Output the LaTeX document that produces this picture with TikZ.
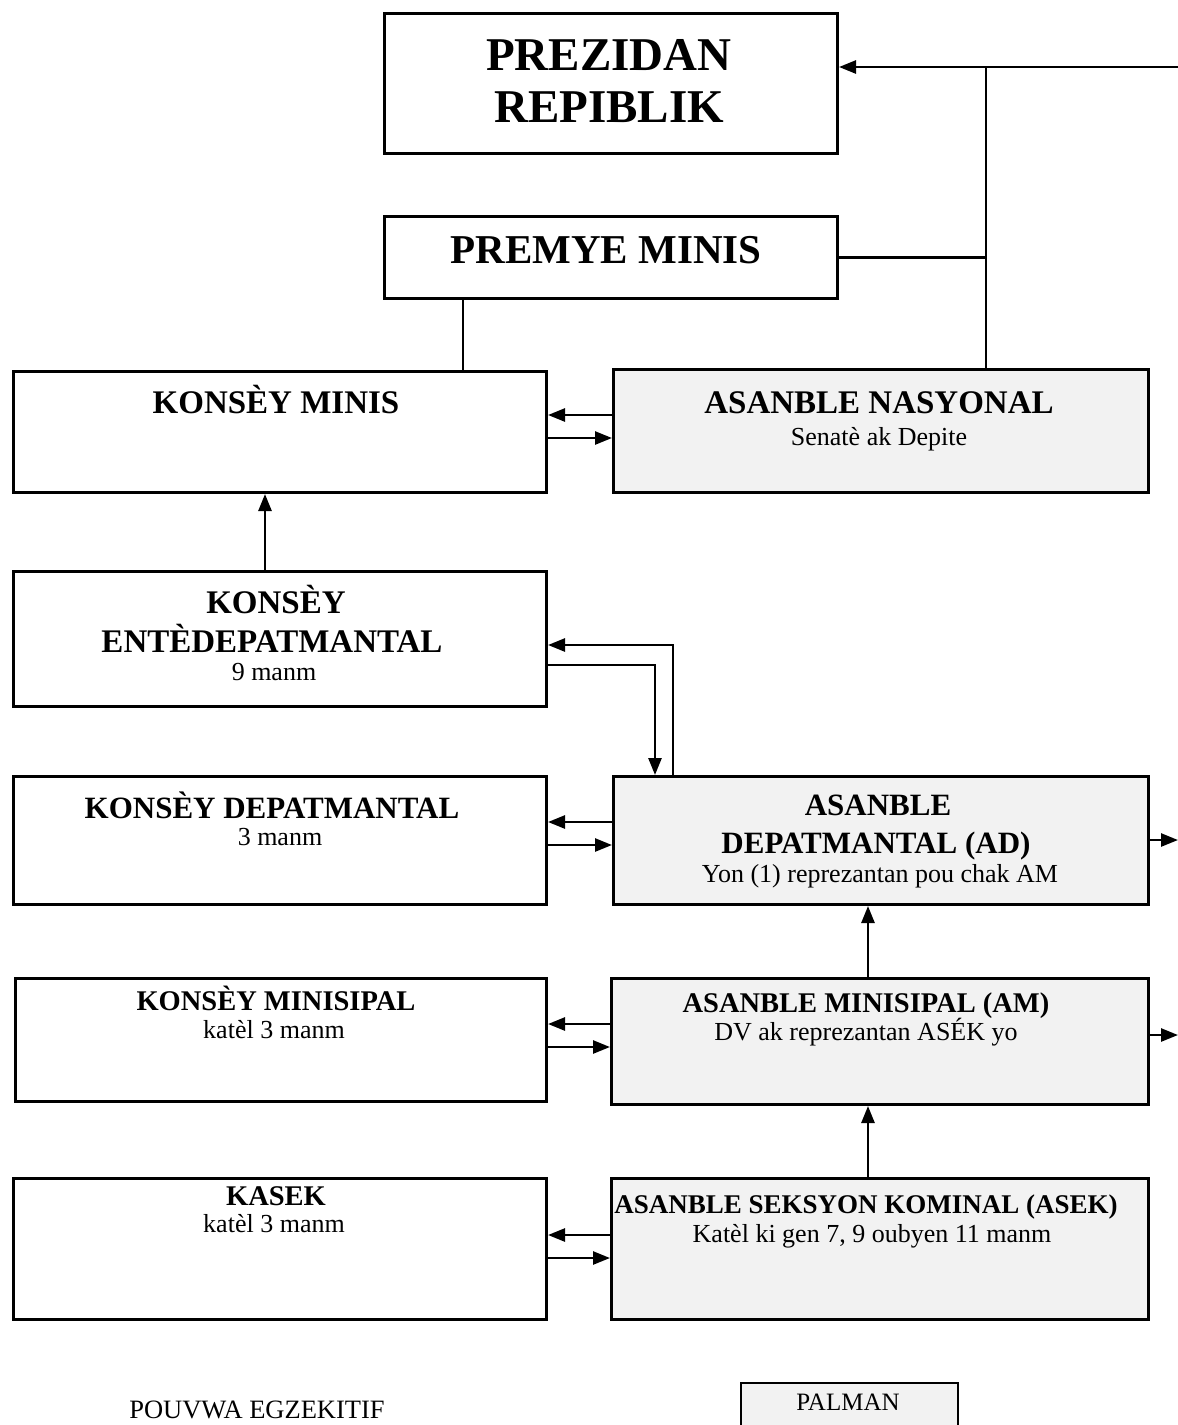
\documentclass[tikz,border=0pt]{standalone}
\usepackage{fontspec}
\setmainfont{Liberation Serif}
\usetikzlibrary{arrows.meta,calc}
\begin{document}
\begin{tikzpicture}[x=1pt,y=-1pt,
 box/.style={draw,line width=3pt,inner sep=0pt,anchor=north west},
 pbox/.style={box,fill=black!5},
 ln/.style={line width=2.6pt},
 arr/.style={ln,-{Triangle[length=17pt,width=13pt]}},
 tA/.style={anchor=base,inner sep=0pt,font=\fontsize{33}{36}\selectfont\bfseries},
 tB/.style={anchor=base,inner sep=0pt,font=\fontsize{31}{34}\selectfont\bfseries},
 tC/.style={anchor=base,inner sep=0pt,font=\fontsize{28.5}{32}\selectfont\bfseries},
 sub/.style={anchor=base,inner sep=0pt,font=\fontsize{26}{30}\selectfont},
]
\useasboundingbox (0,0) rectangle (1178,1425);
% boxes
\node[box,minimum width=453pt,minimum height=140pt] (pr) at (383,12) {};
\node[box,minimum width=453pt,minimum height=82pt] (pm) at (383,215) {};
\node[box,minimum width=533pt,minimum height=121pt] (km) at (12,370) {};
\node[pbox,minimum width=535pt,minimum height=123pt] (an) at (612,368) {};
\node[box,minimum width=533pt,minimum height=135pt] (ke) at (12,570) {};
\node[box,minimum width=533pt,minimum height=128pt] (kd) at (12,775) {};
\node[pbox,minimum width=535pt,minimum height=128pt] (ad) at (612,775) {};
\node[box,minimum width=531pt,minimum height=123pt] (kmi) at (14,977) {};
\node[pbox,minimum width=537pt,minimum height=126pt] (am) at (610,977) {};
\node[box,minimum width=533pt,minimum height=141pt] (ka) at (12,1177) {};
\node[pbox,minimum width=537pt,minimum height=141pt] (as) at (610,1177) {};
\node[pbox,line width=2pt,minimum width=217pt,minimum height=52pt] (pl) at (740,1382) {};
% texts
\node[anchor=base,inner sep=0pt,font=\fontsize{47}{52}\selectfont\bfseries] (prA) at (609,70) {PREZIDAN};
\node[anchor=base,inner sep=0pt,font=\fontsize{47}{52}\selectfont\bfseries] (prB) at (609,122) {REPIBLIK};
\node[anchor=base,inner sep=0pt,font=\fontsize{41}{46}\selectfont\bfseries] (pmA) at (606,263) {PREMYE MINIS};
\node[tA] (kmA) at (276,413) {KONSÈY MINIS};
\node[tA] (anA) at (879,413) {ASANBLE NASYONAL};
\node[sub] (anB) at (879,445) {Senatè ak Depite};
\node[tA] (keA) at (276,613) {KONSÈY};
\node[tA] (keB) at (272,652) {ENTÈDEPATMANTAL};
\node[sub] (keC) at (274,680) {9 manm};
\node[tB] (kdA) at (272,818) {KONSÈY DEPATMANTAL};
\node[sub] (kdB) at (280,845) {3 manm};
\node[tB] (adA) at (878,815) {ASANBLE};
\node[tB] (adB) at (876,853) {DEPATMANTAL (AD)};
\node[sub] (adC) at (880,882) {Yon (1) reprezantan pou chak AM};
\node[tC] (kmiA) at (276,1010) {KONSÈY MINISIPAL};
\node[sub] (kmiB) at (274,1038) {katèl 3 manm};
\node[tC] (amA) at (866,1012) {ASANBLE MINISIPAL (AM)};
\node[sub] (amB) at (866,1040) {DV ak reprezantan ASÉK yo};
\node[tC] (kaA) at (276,1205) {KASEK};
\node[sub] (kaB) at (274,1232) {katèl 3 manm};
\node[anchor=base,inner sep=0pt,font=\fontsize{27}{30}\selectfont\bfseries] (asA) at (866,1213) {ASANBLE SEKSYON KOMINAL (ASEK)};
\node[sub] (asB) at (872,1242) {Katèl ki gen 7, 9 oubyen 11 manm};
\node[anchor=base,inner sep=0pt,font=\fontsize{26.5}{30}\selectfont] (leg) at (257,1418) {POUVWA EGZEKITIF};
\node[anchor=base,inner sep=0pt,font=\fontsize{25}{28}\selectfont] (plA) at (848,1410) {PALMAN};
% connectors
\coordinate (rin) at (1178,67);
\coordinate (j1) at (986,67);
\draw[arr] (rin) -- (pr.east |- rin);
\draw[ln] (j1) -- (j1 |- an.north);
\draw[ln] (pm.east) -- (pm.east -| j1);
\draw[ln] (pm.south -| 463,0) -- (km.north -| 463,0);
\draw[arr] (an.west |- 0,415) -- (km.east |- 0,415);
\draw[arr] (km.east |- 0,438) -- (an.west |- 0,438);
\draw[arr] (ke.north -| 265,0) -- (km.south -| 265,0);
\draw[arr] (ad.north -| 673,0) -- (673,645) -- (ke.east |- 0,645);
\draw[arr] (ke.east |- 0,665) -- (655,665) -- (ad.north -| 655,0);
\draw[arr] (ad.west |- 0,822) -- (kd.east |- 0,822);
\draw[arr] (kd.east |- 0,845) -- (ad.west |- 0,845);
\coordinate (rad) at (1178,840);
\draw[arr] (ad.east |- rad) -- (rad);
\draw[arr] (am.north -| 868,0) -- (ad.south -| 868,0);
\draw[arr] (am.west |- 0,1024) -- (kmi.east |- 0,1024);
\draw[arr] (kmi.east |- 0,1047) -- (am.west |- 0,1047);
\coordinate (ram) at (1178,1035);
\draw[arr] (am.east |- ram) -- (ram);
\draw[arr] (as.north -| 868,0) -- (am.south -| 868,0);
\draw[arr] (as.west |- 0,1235) -- (ka.east |- 0,1235);
\draw[arr] (ka.east |- 0,1258) -- (as.west |- 0,1258);
\end{tikzpicture}
\end{document}
